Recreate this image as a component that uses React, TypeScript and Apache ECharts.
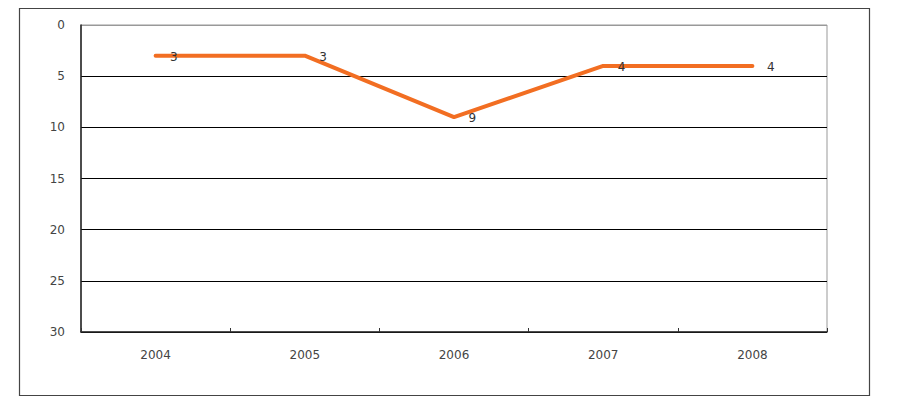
import React, { useEffect, useRef } from "react";
import * as echarts from "echarts";

const categories = ["2004", "2005", "2006", "2007", "2008"];
const values = [3, 3, 9, 4, 4];
const yMin = 0;
const yMax = 30;
const yInterval = 5;

export default function App() {
  const ref = useRef<HTMLDivElement>(null);
  useEffect(() => {
    if (!ref.current) return;
    const chart = echarts.init(ref.current, undefined, { renderer: "svg" });
    const font = "DejaVu Sans, Verdana, sans-serif";
    chart.setOption({
      animation: false,
      backgroundColor: "#ffffff",
      graphic: [
        {
          type: "rect",
          shape: { x: 19.5, y: 8.5, width: 850, height: 387 },
          style: { fill: "none", stroke: "#444", lineWidth: 1.2 },
          z: -1,
        },
      ],
      grid: {
        left: 81,
        top: 25,
        right: 72,
        bottom: 78,
        show: true,
        borderColor: "#999",
        borderWidth: 1,
        backgroundColor: "transparent",
      },
      xAxis: {
        type: "category",
        data: categories,
        boundaryGap: true,
        axisLine: { show: true, onZero: false, lineStyle: { color: "#222", width: 1.5 } },
        axisTick: { show: true, inside: true, length: 4, lineStyle: { color: "#333" } },
        axisLabel: { color: "#444", fontSize: 12, fontFamily: font, margin: 17 },
        splitLine: { show: false },
      },
      yAxis: {
        type: "value",
        inverse: true,
        min: yMin,
        max: yMax,
        interval: yInterval,
        axisLine: { show: true, lineStyle: { color: "#222", width: 1.5 } },
        axisTick: { show: false },
        axisLabel: { color: "#444", fontSize: 12, fontFamily: font, margin: 16 },
        splitLine: {
          show: true,
          lineStyle: { color: ["#999", "#000", "#000", "#000", "#000", "#000", "#000"], width: 1 },
        },
      },
      series: [
        {
          type: "line",
          data: values,
          symbol: "circle",
          symbolSize: 1,
          itemStyle: { color: "#F26E22" },
          lineStyle: { color: "#F26E22", width: 4, cap: "round", join: "round" },
          label: {
            show: true,
            position: "right",
            distance: 14,
            offset: [0, 1],
            color: "#333",
            fontSize: 12,
            fontFamily: font,
          },
        },
      ],
    });
    return () => chart.dispose();
  }, []);
  return (
    <div
      ref={ref}
      style={{ position: "absolute", left: 0, top: 0, width: 899, height: 410 }}
    />
  );
}
